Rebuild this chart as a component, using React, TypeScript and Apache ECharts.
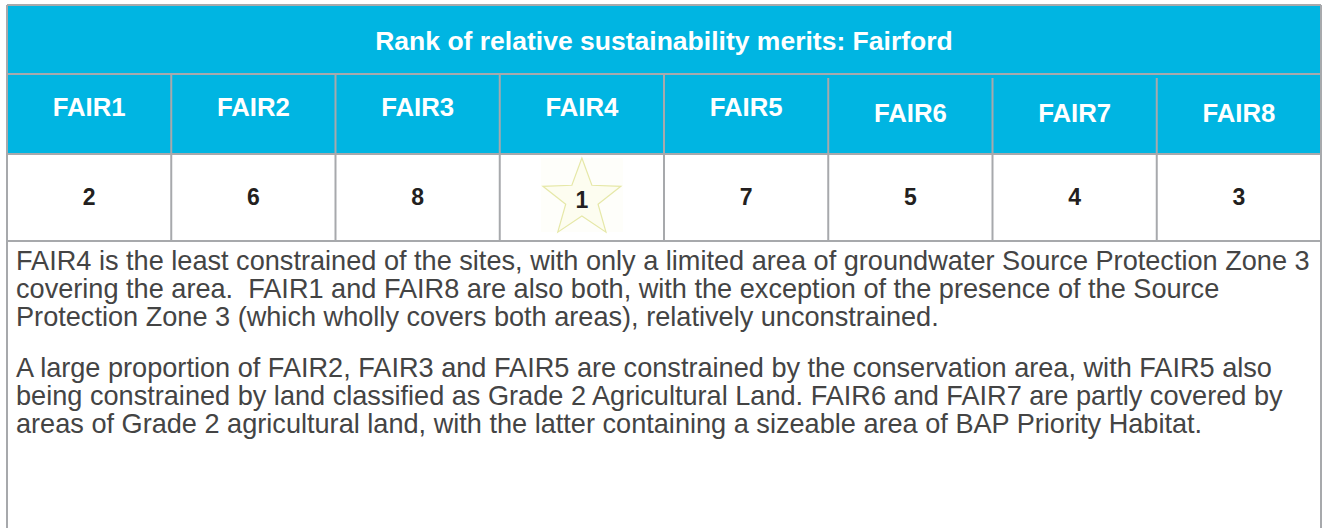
import React, { useEffect, useRef } from "react";
import * as echarts from "echarts";

// ---- data ----
const TITLE = "Rank of relative sustainability merits: Fairford";
const SITES = ["FAIR1", "FAIR2", "FAIR3", "FAIR4", "FAIR5", "FAIR6", "FAIR7", "FAIR8"];
const RANKS = [2, 6, 8, 1, 7, 5, 4, 3];
const PARAGRAPH_1 = [
  "FAIR4 is the least constrained of the sites, with only a limited area of groundwater Source Protection Zone 3",
  "covering the area.  FAIR1 and FAIR8 are also both, with the exception of the presence of the Source",
  "Protection Zone 3 (which wholly covers both areas), relatively unconstrained.",
];
const PARAGRAPH_2 = [
  "A large proportion of FAIR2, FAIR3 and FAIR5 are constrained by the conservation area, with FAIR5 also",
  "being constrained by land classified as Grade 2 Agricultural Land. FAIR6 and FAIR7 are partly covered by",
  "areas of Grade 2 agricultural land, with the latter containing a sizeable area of BAP Priority Habitat.",
];

// ---- layout ----
const W = 1324;
const H = 528;
const LEFT = 7;
const RIGHT = 1321;
const TOP = 5;
const Y_HEAD = 74;
const Y_DATA = 154;
const Y_TEXT = 241;
const BLUE = "#00b5e2";
const GRID = "#a7a9ac";
const FAMILY = '"Liberation Sans", Arial, sans-serif';

function fitSize(text: string, weight: string, target: number): number {
  const c = document.createElement("canvas").getContext("2d");
  if (!c) return 16;
  c.font = `${weight} 100px ${FAMILY}`;
  const w = c.measureText(text).width;
  return (100 * target) / w;
}

export default function App() {
  const ref = useRef<HTMLDivElement>(null);
  useEffect(() => {
    if (!ref.current) return;
    const chart = echarts.init(ref.current, undefined, { renderer: "svg" });
    const colW = (RIGHT - LEFT) / SITES.length;
    const titleSize = fitSize(TITLE, "600", 578);
    const headSize = fitSize("FAIR1", "bold", 73);
    const bodySize = fitSize(PARAGRAPH_1[0], "normal", 1294);
    const numSize = 23;

    const els: any[] = [];
    els.push({ type: "rect", shape: { x: LEFT, y: TOP, width: RIGHT - LEFT, height: Y_DATA - TOP }, style: { fill: BLUE } });
    els.push({
      type: "text",
      style: {
        text: TITLE, x: (LEFT + RIGHT) / 2, y: 41, textAlign: "center", textVerticalAlign: "middle",
        fill: "#ffffff", fontSize: titleSize, fontWeight: 600, fontFamily: FAMILY,
      },
    });
    SITES.forEach((s, i) => {
      const cx = LEFT + colW * (i + 0.5);
      els.push({
        type: "text",
        style: {
          text: s, x: cx, y: i >= 5 ? 113 : 107, textAlign: "center", textVerticalAlign: "middle",
          fill: "#ffffff", fontSize: headSize, fontWeight: "bold", fontFamily: FAMILY,
        },
      });
      if (RANKS[i] === 1) {
        const pts: number[][] = [];
        const R = 41, r = 17, sx = cx, sy = 199;
        for (let k = 0; k < 10; k++) {
          const a = -Math.PI / 2 + (k * Math.PI) / 5;
          const rr = k % 2 === 0 ? R : r;
          pts.push([sx + rr * Math.cos(a), sy + rr * Math.sin(a)]);
        }
        els.push({ type: "rect", shape: { x: cx - 41, y: 158, width: 82, height: 74 }, style: { fill: "#fefefa" } });
        els.push({ type: "polygon", shape: { points: pts }, style: { fill: "#fdfdf0", stroke: "#e6e8a8", lineWidth: 1.2 } });
      }
      els.push({
        type: "text",
        style: {
          text: String(RANKS[i]), x: cx, y: RANKS[i] === 1 ? 200 : 197, textAlign: "center", textVerticalAlign: "middle",
          fill: "#231f20", fontSize: numSize, fontWeight: "bold", fontFamily: FAMILY,
        },
      });
      if (i > 0) {
        const x = LEFT + colW * i;
        els.push({ type: "line", shape: { x1: x, y1: i >= 5 ? 78 : Y_HEAD, x2: x, y2: Y_TEXT }, style: { stroke: GRID, lineWidth: 2 } });
      }
    });
    [TOP, Y_HEAD, Y_DATA, Y_TEXT].forEach((y) => {
      els.push({ type: "line", shape: { x1: LEFT, y1: y, x2: RIGHT, y2: y }, style: { stroke: GRID, lineWidth: 2 } });
    });
    els.push({ type: "line", shape: { x1: LEFT, y1: TOP, x2: LEFT, y2: H }, style: { stroke: GRID, lineWidth: 2 } });
    els.push({ type: "line", shape: { x1: RIGHT, y1: TOP, x2: RIGHT, y2: H }, style: { stroke: GRID, lineWidth: 2 } });

    const lineH = 28;
    const addPara = (lines: string[], y0: number) => {
      lines.forEach((t, k) => {
        els.push({
          type: "text",
          style: {
            text: t, x: 16, y: y0 + k * lineH, textAlign: "left", textVerticalAlign: "middle",
            fill: "#444444", fontSize: bodySize, fontFamily: FAMILY,
          },
        });
      });
    };
    addPara(PARAGRAPH_1, 260);
    addPara(PARAGRAPH_2, 367);

    chart.setOption({ animation: false, graphic: { elements: els } });
    return () => chart.dispose();
  }, []);
  return <div ref={ref} style={{ position: "fixed", left: 0, top: 0, width: W, height: H, background: "#fff" }} />;
}
